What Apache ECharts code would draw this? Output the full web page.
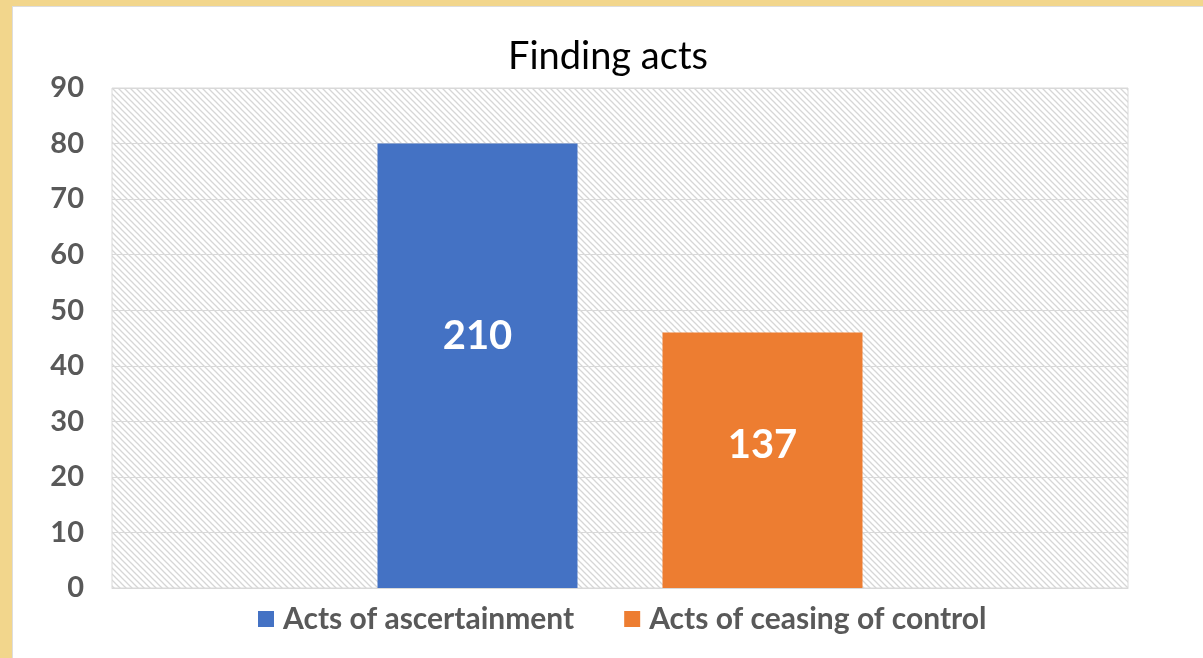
<!DOCTYPE html>
<html>
<head>
<meta charset="utf-8">
<script src="https://cdn.jsdelivr.net/npm/echarts@6/dist/echarts.min.js"></script>
<style>
  html, body { margin: 0; padding: 0; width: 1203px; height: 658px; overflow: hidden; background: #f2d68c; }
  #frame { position: absolute; left: 12px; top: 6px; width: 1191px; height: 652px; background: #fff; border-left: 1px solid #ddd; border-top: 1px solid #ddd; }
  #main { width: 1190px; height: 651px; }
</style>
</head>
<body>
<div id="frame"><div id="main"></div></div>
<script>
var categories = ['Finding acts'];
var seriesNames = ['Acts of ascertainment', 'Acts of ceasing of control'];
var barValues = [80, 46];
var barLabels = ['210', '137'];
var yTicks = [0, 10, 20, 30, 40, 50, 60, 70, 80, 90];

// hatched background for the plot area
function makeHatch () {
  var c = document.createElement('canvas');
  c.width = 6;
  c.height = 6;
  var ctx = c.getContext('2d');
  ctx.strokeStyle = '#d6d6d6';
  ctx.lineWidth = 1.3;
  ctx.beginPath();
  ctx.moveTo(-1, -1); ctx.lineTo(7, 7);
  ctx.moveTo(-1, 5); ctx.lineTo(1, 7);
  ctx.moveTo(5, -1); ctx.lineTo(7, 1);
  ctx.stroke();
  return c;
}

var chart = echarts.init(document.getElementById('main'));
var colors = ['#4472c4', '#ed7d31'];
var labelOffsets = [[0, -30], [0, -15]];

var option = {
  animation: false,
  title: {
    text: 'Finding acts',
    left: 'center',
    top: 26,
    textStyle: { fontFamily: 'Lato', fontSize: 38, fontWeight: 'normal', color: '#000' }
  },
  legend: {
    top: 592,
    left: 240,
    itemWidth: 16,
    itemHeight: 16,
    itemGap: 50,
    icon: 'rect',
    textStyle: { fontFamily: 'Lato', fontSize: 30, fontWeight: 'bold', color: '#595959', padding: [0, 0, 0, 4] },
    data: seriesNames
  },
  grid: {
    left: 99,
    right: 75,
    top: 81,
    bottom: 70,
    show: true,
    borderColor: '#d9d9d9',
    borderWidth: 1,
    backgroundColor: { image: makeHatch(), repeat: 'repeat' }
  },
  xAxis: {
    type: 'category',
    data: categories,
    axisLine: { lineStyle: { color: '#d9d9d9' } },
    axisTick: { show: false },
    axisLabel: { show: false }
  },
  yAxis: {
    type: 'value',
    min: yTicks[0],
    max: yTicks[yTicks.length - 1],
    interval: 10,
    axisLine: { show: false },
    axisTick: { show: false },
    splitLine: { lineStyle: { color: '#d9d9d9', width: 1 } },
    axisLabel: { fontFamily: 'Lato', fontSize: 29, fontWeight: 'bold', color: '#595959', margin: 28 }
  },
  series: seriesNames.map(function (name, i) {
    return {
      name: name,
      type: 'bar',
      barWidth: 200,
      barGap: '42.5%',
      itemStyle: { color: colors[i] },
      label: {
        show: true,
        position: 'inside',
        offset: labelOffsets[i],
        formatter: function () { return barLabels[i]; },
        fontFamily: 'Lato',
        fontSize: 40,
        fontWeight: 'bold',
        color: '#fff'
      },
      data: [barValues[i]]
    };
  })
};
chart.setOption(option);
</script>
</body>
</html>
